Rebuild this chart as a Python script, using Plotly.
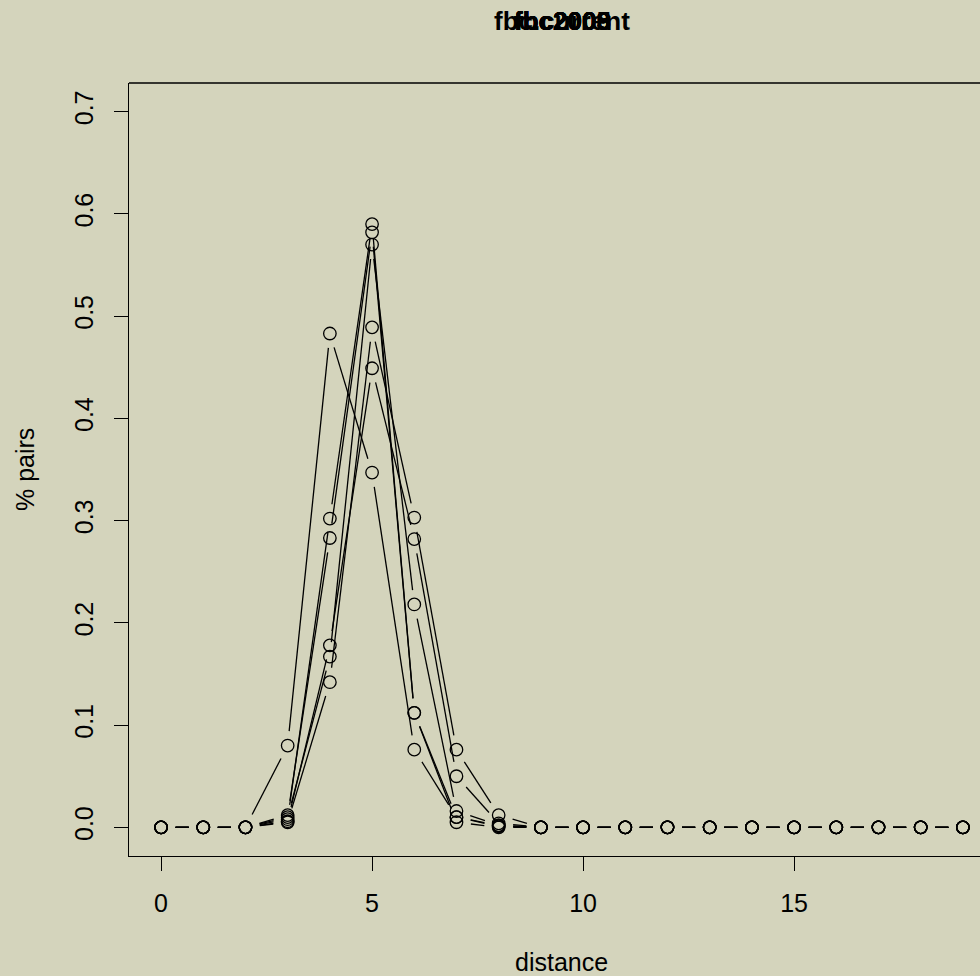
import math
import plotly.graph_objects as go

# ---- data: share of pairs at each distance, one list per dataset ----
distance = list(range(20))

series_names = ["fbc2003", "fbc2005", "fbc2006", "fbc2008", "fbc2009", "fbc.current"]

pct_fbc2003 = [0, 0, 0, 0.080, 0.483, 0.347, 0.076, 0.010, 0.002, 0, 0, 0, 0, 0, 0, 0, 0, 0, 0, 0]
pct_fbc2005 = [0, 0, 0, 0.008, 0.302, 0.590, 0.112, 0.005, 0.000, 0, 0, 0, 0, 0, 0, 0, 0, 0, 0, 0]
pct_fbc2006 = [0, 0, 0, 0.012, 0.283, 0.582, 0.112, 0.010, 0.001, 0, 0, 0, 0, 0, 0, 0, 0, 0, 0, 0]
pct_fbc2008 = [0, 0, 0, 0.010, 0.167, 0.570, 0.218, 0.016, 0.002, 0, 0, 0, 0, 0, 0, 0, 0, 0, 0, 0]
pct_fbc2009 = [0, 0, 0, 0.006, 0.178, 0.449, 0.282, 0.050, 0.004, 0, 0, 0, 0, 0, 0, 0, 0, 0, 0, 0]
pct_fbc_current = [0, 0, 0, 0.005, 0.142, 0.489, 0.303, 0.076, 0.012, 0, 0, 0, 0, 0, 0, 0, 0, 0, 0, 0]

series_values = [pct_fbc2003, pct_fbc2005, pct_fbc2006, pct_fbc2008, pct_fbc2009, pct_fbc_current]

x_ticks = [0, 5, 10, 15]
y_ticks = [0.0, 0.1, 0.2, 0.3, 0.4, 0.5, 0.6, 0.7]

# ---- page geometry ----
W, H = 980, 976
M_L, M_T, M_B = 129, 83, 120
PLOT_W = W - M_L
PLOT_H = H - M_T - M_B

PX_PER_X = 42.2                     # horizontal scale of the distance axis
X_RANGE = [-0.76, -0.76 + PLOT_W / PX_PER_X]
Y_RANGE = [-0.028, 0.728]
PX_PER_Y = PLOT_H / (Y_RANGE[1] - Y_RANGE[0])

GAP_PX = 14.5                       # blank space left around each point ("b" style)
FONT = "Liberation Sans, Arial, Helvetica, sans-serif"
BG = "#d4d4bc"
INK = "#000000"


def gapped_segments(xv, yv):
    """Line pieces between successive points, trimmed so they stop short of the markers."""
    xs, ys = [], []
    for i in range(len(xv) - 1):
        x0, y0, x1, y1 = xv[i], yv[i], xv[i + 1], yv[i + 1]
        L = math.hypot((x1 - x0) * PX_PER_X, (y1 - y0) * PX_PER_Y)
        if L <= 2 * GAP_PX:
            continue
        t = GAP_PX / L
        xs += [x0 + t * (x1 - x0), x1 - t * (x1 - x0), None]
        ys += [y0 + t * (y1 - y0), y1 - t * (y1 - y0), None]
    return xs, ys


fig = go.Figure()
for name, vals in zip(series_names, series_values):
    sx, sy = gapped_segments(distance, vals)
    fig.add_trace(go.Scatter(x=sx, y=sy, mode="lines", name=name,
                             line=dict(color=INK, width=1.3),
                             hoverinfo="skip", showlegend=False))
    fig.add_trace(go.Scatter(x=distance, y=vals, mode="markers", name=name,
                             marker=dict(symbol="circle-open", size=12.5,
                                         color=INK, line=dict(color=INK, width=1.3)),
                             showlegend=False))


def xp(px):
    return (px - M_L) / PLOT_W


def yp(py):
    return (H - M_B - py) / PLOT_H


annotations = []
# overlapping main titles, one per dataset, all centred on the full plot region
for name in series_names:
    annotations.append(dict(text=f"<b>{name}</b>", x=xp(562), y=yp(21),
                            xref="paper", yref="paper", showarrow=False,
                            xanchor="center", yanchor="middle",
                            font=dict(family=FONT, size=26, color=INK)))
annotations.append(dict(text="distance", x=xp(561), y=yp(962), xref="paper", yref="paper",
                        showarrow=False, xanchor="center", yanchor="middle",
                        font=dict(family=FONT, size=25, color=INK)))
annotations.append(dict(text="% pairs", x=xp(25), y=yp(470), xref="paper", yref="paper",
                        showarrow=False, xanchor="center", yanchor="middle", textangle=-90,
                        font=dict(family=FONT, size=25, color=INK)))

fig.update_layout(
    width=W, height=H,
    margin=dict(l=M_L, r=0, t=M_T, b=M_B, pad=0),
    paper_bgcolor=BG, plot_bgcolor=BG,
    showlegend=False,
    annotations=annotations,
    shapes=[dict(type="line", xref="paper", yref="paper", x0=0, x1=1, y0=1, y1=1,
                 line=dict(color=INK, width=1.3))],
    xaxis=dict(range=X_RANGE, tickvals=x_ticks, ticktext=[str(v) for v in x_ticks],
               ticks="outside", ticklen=14, tickwidth=1.3, tickcolor=INK,
               showline=True, linecolor=INK, linewidth=1.3,
               showgrid=False, zeroline=False, ticklabelstandoff=11,
               tickfont=dict(family=FONT, size=25, color=INK)),
    yaxis=dict(range=Y_RANGE, tickvals=y_ticks, ticktext=[f"{v:.1f}" for v in y_ticks],
               ticks="outside", ticklen=14, tickwidth=1.3, tickcolor=INK,
               showline=True, linecolor=INK, linewidth=1.3, tickangle=-90,
               showgrid=False, zeroline=False, ticklabelstandoff=11,
               tickfont=dict(family=FONT, size=25, color=INK)),
)

fig.write_html("out.html")
